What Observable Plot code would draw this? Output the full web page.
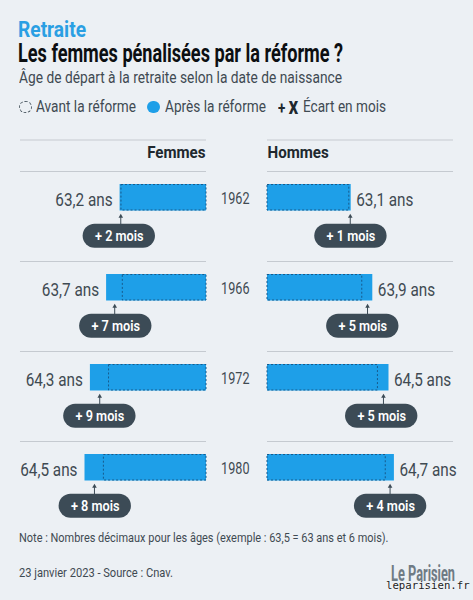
<!DOCTYPE html>
<html lang="fr"><head><meta charset="utf-8">
<script src="https://cdn.jsdelivr.net/npm/d3@7"></script>
<script src="https://cdn.jsdelivr.net/npm/@observablehq/plot@0.6"></script>
<style>
html,body{margin:0;padding:0;background:#ecf0f4;}
body{position:relative;width:473px;height:600px;overflow:hidden;font-family:Roboto,sans-serif;}
.t,.l{position:absolute;white-space:nowrap;line-height:1;transform-origin:0 50%;}
#kicker{left:18px;top:18px;font-size:22.5px;font-weight:700;color:#2a9fe3;}
#title{left:18px;top:41px;font-size:25px;font-weight:700;color:#0c0f12;}
#sub{left:19px;top:70px;font-size:16.5px;color:#3f4a52;}
.l{font-size:16.5px;color:#3f4a52;top:98.5px;}
#legend i{position:absolute;top:100.5px;width:12.5px;height:12.5px;border-radius:50%;box-sizing:border-box;}
#note{left:18.5px;top:531px;font-size:13.5px;color:#3f4a52;}
#src{left:19px;top:566px;font-size:13.5px;color:#3f4a52;}
#logo{left:391px;top:563px;font-size:22px;font-weight:700;color:#6f7b84;}
#wm{left:386px;top:581px;font-family:"DejaVu Sans Mono",monospace;font-size:10.7px;color:#222;text-shadow:0 0 2px #fff;}
.plot{position:absolute;top:129.5px;}
</style></head><body>
<div class="t" id="kicker" data-w="68">Retraite</div>
<div class="t" id="title" data-w="325">Les femmes pénalisées par la réforme ?</div>
<div class="t" id="sub" data-w="323">Âge de départ à la retraite selon la date de naissance</div>
<div id="legend">
 <i style="left:19px;border:1px dashed #55616a"></i><span class="l" style="left:35.5px" data-w="100">Avant la réforme</span>
 <i style="left:147px;background:#1e9fe8"></i><span class="l" style="left:165px" data-w="101">Après la réforme</span>
 <span class="l" style="left:278px;font-weight:700;color:#20282e" data-w="20">+ <b style="font-size:18px">X</b></span><span class="l" style="left:303px" data-w="83">Écart en mois</span>
</div>
<div id="chart"></div>
<div class="t" id="note" data-w="369.5">Note : Nombres décimaux pour les âges (exemple : 63,5 = 63 ans et 6 mois).</div>
<div class="t" id="src" data-w="154">23 janvier 2023 - Source : Cnav.</div>
<div class="t" id="logo" data-w="64">Le Parisien</div>
<div class="t" id="wm">leparisien.fr</div>
<script>
const years = ["1962","1966","1972","1980"];
const femmesApres = [63.2,63.7,64.3,64.5];
const femmesAvant = [63.15,63.1,63.61,63.8];
const femmesMois = [2,7,9,8];
const femmesBulle = [63.23,63.36,63.95,64.12];
const hommesApres = [63.1,63.9,64.5,64.7];
const hommesAvant = [63.03,63.51,64.09,64.38];
const hommesMois = [1,5,5,4];
const hommesBulle = [63.09,63.53,64.23,64.56];
const base = 60, axisEnd = 67.63, ruleEnd = 66.89, pillHalf = 1.34;

const BLUE="#1e9fe8", DARK="#3c4b56", INK="#3f4a52";
const fr = v => v.toFixed(1).replace(".",",")+" ans";

function panel(name, apres, avant, mois, bulle, left){
  const rows = years.map((y,i)=>({y,apres:apres[i],avant:avant[i],mois:mois[i],bulle:bulle[i],mid:(apres[i]+avant[i])/2}));
  const first = rows.slice(0,1);
  return Plot.plot({
    width: left?267:206, height:400,
    marginLeft:0, marginRight:left?61:0, marginTop:40.5, marginBottom:-0.5,
    style:{background:"transparent",fontFamily:"Roboto,sans-serif",overflow:"visible"},
    x:{domain:left?[axisEnd,base]:[base,axisEnd],range:[0,206],axis:null},
    y:{domain:years,axis:null,padding:0},
    marks:[
      Plot.ruleY(rows,{y:"y",x1:base,x2:ruleEnd,dy:-45,stroke:"#c5cad0",strokeWidth:1.2}),
      Plot.ruleY(first,{y:"y",x1:base,x2:ruleEnd,dy:-76.5,stroke:"#c5cad0",strokeWidth:1.2}),
      Plot.text(first,{y:"y",x:base,text:()=>name,dy:-63.5,dx:left?-1:0,textAnchor:left?"end":"start",fontSize:16.6,fontWeight:700,fill:"#20282e"}),
      Plot.barX(rows,{y:"y",x1:base,x2:"apres",fill:BLUE,insetTop:13,insetBottom:50.5}),
      Plot.barX(rows,{y:"y",x1:base,x2:"avant",fill:"none",stroke:"#175a8c",strokeWidth:1,strokeDasharray:"2,2",insetTop:13.5,insetBottom:51}),
      Plot.text(rows,{y:"y",x:"apres",text:d=>fr(d.apres),dx:left?-7.5:5,dy:-16.5,textAnchor:left?"end":"start",fontSize:17.8,fill:INK}),
      ...(left?[Plot.text(rows,{y:"y",x:base,text:"y",dx:43,dy:-17.5,textAnchor:"end",fontSize:16.4,fill:INK})]:[]),
      Plot.tickX(rows,{y:"y",x:"mid",stroke:DARK,strokeWidth:1,insetTop:45,insetBottom:37}),
      Plot.dot(rows,{y:"y",x:"mid",symbol:"triangle",r:1.7,fill:DARK,dy:0}),
      Plot.barX(rows,{y:"y",x1:d=>d.bulle-pillHalf,x2:d=>d.bulle+pillHalf,fill:DARK,rx:12,insetTop:52.8,insetBottom:13.2}),
      Plot.text(rows,{y:"y",x:"bulle",text:d=>"+ "+d.mois+" mois",dy:20,fontSize:15.5,fontWeight:600,fill:"#fff"})
    ]
  });
}
const chart=document.getElementById("chart");
const L=panel("Femmes",femmesApres,femmesAvant,femmesMois,femmesBulle,true);
const R=panel("Hommes",hommesApres,hommesAvant,hommesMois,hommesBulle,false);
L.classList.add("plot");L.style.left="0px";
R.classList.add("plot");R.style.left="267px";
chart.append(L,R);

// The reference uses a condensed face: narrow the installed Roboto glyphs to the same widths.
const condense={"16.6":.91,"17.8":.86,"16.4":.77,"15.5":.82};
function fit(){
  document.querySelectorAll("[data-w]").forEach(e=>{
    e.style.transform="none";
    e.style.transform=`scaleX(${+e.dataset.w/e.getBoundingClientRect().width})`;
  });
  document.querySelectorAll(".plot text").forEach(t=>{
    const g=t.closest("[font-size]");
    const k=g&&condense[g.getAttribute("font-size")];
    if(!k)return;
    t.removeAttribute("textLength");
    t.setAttribute("textLength",t.getComputedTextLength()*k);
    t.setAttribute("lengthAdjust","spacingAndGlyphs");
  });
}
fit();
if(document.fonts&&document.fonts.ready)document.fonts.ready.then(fit);
</script>
</body></html>
